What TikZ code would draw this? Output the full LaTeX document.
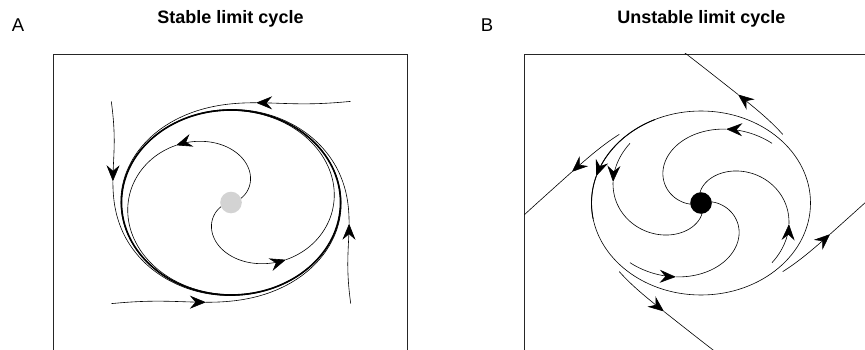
\documentclass[tikz,border=0pt]{standalone}
\usepackage{fontspec}
\setmainfont{Liberation Sans}
\usetikzlibrary{arrows.meta}
\definecolor{dotgray}{RGB}{211,211,211}
\begin{document}
\begin{tikzpicture}[x=1pt,y=1pt,
  declare function={
    sI(\u)=1-exp(-0.4*pow(\u/57.29578,1.7));
    sO(\u)=1+0.38*exp(-4.5*\u/57.29578)+0.166*exp(-1.4*\u/57.29578);
    sB(\u)=1+0.055*exp(2.8*\u/57.29578);
  },
  traj/.style={line width=0.6pt, line join=round},
  tipped/.style={-{Stealth[length=16pt,width=13pt,inset=5.5pt]}},
  frame/.style={line width=0.8pt, black!85},
  title/.style={font=\bfseries\fontsize{18}{20}\selectfont, inner sep=0pt, anchor=base},
  panel/.style={font=\fontsize{18.5}{20}\selectfont, inner sep=0pt, anchor=base west},
]
\useasboundingbox (0,0) rectangle (865,349);

% ---------------- Panel A ----------------
\node[panel] (labA) at (11.7,317.5) {A};
\node[title] (titA) at (230.5,325) {Stable limit cycle};
\draw[frame] (53.3,-2) -- (53.3,295) -- (407.3,295) -- (407.3,-2);

\begin{scope}[shift={(231,146.5)}]
  \draw[line width=1.6pt] (0,0) ellipse [x radius=109.5, y radius=92.5];
  % inner spirals (outward)
  \foreach \r in {0,180}{
    \draw[traj,tipped] plot[domain=20:129, samples=60, variable=\t, smooth]
      ({109.5*sI(\t)*cos(\t+\r)}, {92.5*sI(\t)*sin(\t+\r)});
    \draw[traj] plot[domain=129:400, samples=120, variable=\t, smooth]
      ({109.5*sI(\t)*cos(\t+\r)}, {92.5*sI(\t)*sin(\t+\r)});
  }
  % outer trajectories (inward)
  \foreach \a in {45,135,225,315}{
    \draw[traj,tipped] plot[domain=0:33, samples=30, variable=\u, smooth]
      ({109.5*sO(\u)*cos(\a+\u)}, {92.5*sO(\u)*sin(\a+\u)});
    \draw[traj] plot[domain=33:220, samples=100, variable=\u, smooth]
      ({109.5*sO(\u)*cos(\a+\u)}, {92.5*sO(\u)*sin(\a+\u)});
  }
  \fill[dotgray] (0,0) circle[radius=10.8];
\end{scope}

% ---------------- Panel B ----------------
\node[panel] (labB) at (480.7,317.5) {B};
\node[title] (titB) at (701.3,325) {Unstable limit cycle};
\draw[frame] (524.3,-2) -- (524.3,295) -- (870,295);

\begin{scope}
  \clip (524.3,-2) rectangle (870,295);
  \begin{scope}[shift={(701,146)}]
    \draw[traj] (0,0) ellipse [x radius=109.5, y radius=92];
    % arrow on the cycle
    \draw[line width=0.9pt,tipped] plot[domain=115:163, samples=30, variable=\v, smooth]
      ({109.5*cos(\v)}, {92*sin(\v)});
    \draw[line width=0.9pt] plot[domain=163:190, samples=20, variable=\v, smooth]
      ({109.5*cos(\v)}, {92*sin(\v)});
    % inner spirals (inward to focus)
    \foreach \a in {45,135,225,315}{
      \draw[traj,tipped] plot[domain=0:29, samples=30, variable=\v, smooth]
        ({109.5*sI(168-\v)*cos(\a+\v)}, {92*sI(168-\v)*sin(\a+\v)});
      \draw[traj] plot[domain=29:150, samples=80, variable=\v, smooth]
        ({109.5*sI(168-\v)*cos(\a+\v)}, {92*sI(168-\v)*sin(\a+\v)});
    }
    % outer trajectories (away from cycle)
    \foreach \a in {45,135,225,315}{
      \draw[traj,tipped] plot[domain=0:29, samples=30, variable=\v, smooth]
        ({109.5*sB(\v)*cos(\a+\v)}, {92*sB(\v)*sin(\a+\v)});
      \draw[traj] plot[domain=29:62, samples=40, variable=\v, smooth]
        ({109.5*sB(\v)*cos(\a+\v)}, {92*sB(\v)*sin(\a+\v)});
    }
    \fill[black] (0,0) circle[radius=10.8];
  \end{scope}
\end{scope}
\end{tikzpicture}
\end{document}
